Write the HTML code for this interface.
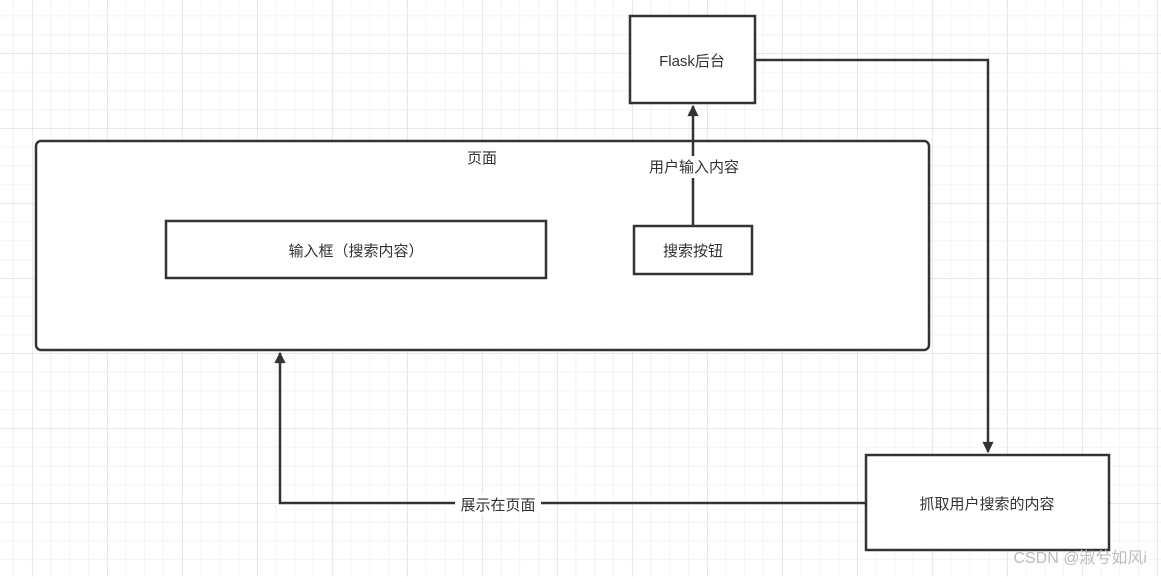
<!DOCTYPE html>
<html><head><meta charset="utf-8"><style>
html,body{margin:0;padding:0;background:#fff}
svg text{font-family:"Liberation Sans","Noto Sans CJK SC",sans-serif;font-size:15px;fill:#333}
</style></head><body>
<svg width="1161" height="577" xmlns="http://www.w3.org/2000/svg">
<defs>
<pattern id="g" width="18.75" height="18.75" patternUnits="userSpaceOnUse" patternTransform="translate(13,15.5)">
<path d="M0 0V18.75M0 0H18.75" stroke="#f0f0f0" stroke-width="1.5" fill="none"/></pattern>
<pattern id="G" width="75" height="75" patternUnits="userSpaceOnUse" patternTransform="translate(32,53)">
<path d="M0 0V75M0 0H75" stroke="#e2e2e2" stroke-width="1.5" fill="none"/></pattern>
<marker id="a" viewBox="0 0 10 10" refX="9" refY="5" markerWidth="6" markerHeight="4.5" orient="auto"><path d="M0 0L10 5L0 10z" fill="#333"/></marker>
</defs>
<rect width="1161" height="577" fill="url(#g)"/>
<rect width="1161" height="577" fill="url(#G)"/>
<g stroke="#333" stroke-width="2.5" fill="#fff">
<rect x="36" y="141" width="893" height="209" rx="5"/>
<rect x="630" y="16" width="125" height="87"/>
<rect x="166" y="221" width="380" height="57"/>
<rect x="634" y="226" width="118" height="48"/>
<rect x="866" y="455" width="243" height="95"/>
</g>
<g stroke="#333" stroke-width="2.5" fill="none">
<path d="M693 226V106" marker-end="url(#a)"/>
<path d="M755 60H988V452" marker-end="url(#a)"/>
<path d="M866 503H280V353" marker-end="url(#a)"/>
</g>
<rect x="644" y="156" width="100" height="22" fill="#fff"/>
<rect x="455" y="494" width="86" height="20" fill="#fff"/>
<text x="692" y="66" text-anchor="middle">Flask后台</text>
<text x="482" y="163" text-anchor="middle">页面</text>
<text x="694" y="172" text-anchor="middle">用户输入内容</text>
<text x="356" y="256" text-anchor="middle">输入框（搜索内容）</text>
<text x="693" y="256" text-anchor="middle">搜索按钮</text>
<text x="498" y="510" text-anchor="middle">展示在页面</text>
<text x="987" y="509" text-anchor="middle">抓取用户搜索的内容</text>
<text x="1147" y="563" text-anchor="end" style="font-size:16px;fill:#bcbcbc">CSDN @淑兮如风i</text>
</svg>
</body></html>
